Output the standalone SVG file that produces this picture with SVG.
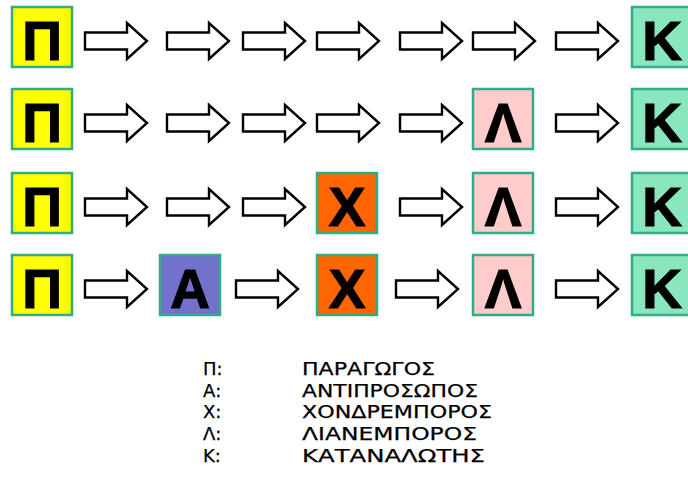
<svg xmlns="http://www.w3.org/2000/svg" xmlns:xlink="http://www.w3.org/1999/xlink" width="688" height="499" viewBox="0 0 688 499">
  <style>
    .box { stroke: #2fae86; stroke-width: 2.5; }
    .p { fill: #ffff00; }
    .a { fill: #7272cc; }
    .x { fill: #ff6600; }
    .l { fill: #ffcccc; }
    .k { fill: #8ae6bc; }
    .let { font-family: "Liberation Sans", Arial, sans-serif; font-weight: bold; font-size: 55px; fill: #000; stroke: #000; stroke-width: 1.2; text-anchor: middle; }
    .arr { fill: #fff; stroke: #000; stroke-width: 2.4; stroke-linejoin: miter; }
    .leg { font-family: "DejaVu Sans", Verdana, sans-serif; font-size: 18px; fill: #000; stroke: #000; stroke-width: 0.25; }
  </style>
  <defs>
    <!-- block arrow, origin at left end of shaft, vertical centre -->
    <path id="arrow" class="arr" d="M0,-8.5 H42 V-18 L62,0 L42,18 V8.5 H0 Z"/>
  </defs>

  <!-- row 1 -->
  <g id="r1-p"><rect class="box p" x="12" y="7" width="60" height="60"/><text class="let" x="42" y="60">Π</text></g>
  <g id="r1-k"><rect class="box k" x="632" y="7" width="60" height="60"/><text class="let" x="662" y="60">K</text></g>

  <!-- row 2 -->
  <g id="r2-p"><rect class="box p" x="12" y="89" width="60" height="60"/><text class="let" x="42" y="142">Π</text></g>
  <g id="r2-l"><rect class="box l" x="473" y="89" width="60" height="60"/><text class="let" x="503" y="142">Λ</text></g>
  <g id="r2-k"><rect class="box k" x="632" y="89" width="60" height="60"/><text class="let" x="662" y="142">K</text></g>

  <!-- row 3 -->
  <g id="r3-p"><rect class="box p" x="12" y="173" width="60" height="60"/><text class="let" x="42" y="226">Π</text></g>
  <g id="r3-x"><rect class="box x" x="317" y="173" width="60" height="60"/><text class="let" x="347" y="226">X</text></g>
  <g id="r3-l"><rect class="box l" x="473" y="173" width="60" height="60"/><text class="let" x="503" y="226">Λ</text></g>
  <g id="r3-k"><rect class="box k" x="632" y="173" width="60" height="60"/><text class="let" x="662" y="226">K</text></g>

  <!-- row 4 -->
  <g id="r4-p"><rect class="box p" x="12" y="255" width="60" height="60"/><text class="let" x="42" y="308">Π</text></g>
  <g id="r4-a"><rect class="box a" x="160" y="255" width="60" height="60"/><text class="let" x="190" y="308">A</text></g>
  <g id="r4-x"><rect class="box x" x="317" y="255" width="60" height="60"/><text class="let" x="347" y="308">X</text></g>
  <g id="r4-l"><rect class="box l" x="473" y="255" width="60" height="60"/><text class="let" x="503" y="308">Λ</text></g>
  <g id="r4-k"><rect class="box k" x="632" y="255" width="60" height="60"/><text class="let" x="662" y="308">K</text></g>

  <!-- connectors -->
  <g id="connectors">
    <use xlink:href="#arrow" href="#arrow" x="85" y="41"/>
    <use xlink:href="#arrow" href="#arrow" x="167" y="41"/>
    <use xlink:href="#arrow" href="#arrow" x="243" y="41"/>
    <use xlink:href="#arrow" href="#arrow" x="317" y="41"/>
    <use xlink:href="#arrow" href="#arrow" x="400" y="41"/>
    <use xlink:href="#arrow" href="#arrow" x="473" y="41"/>
    <use xlink:href="#arrow" href="#arrow" x="556" y="41"/>

    <use xlink:href="#arrow" href="#arrow" x="85" y="123"/>
    <use xlink:href="#arrow" href="#arrow" x="167" y="123"/>
    <use xlink:href="#arrow" href="#arrow" x="243" y="123"/>
    <use xlink:href="#arrow" href="#arrow" x="317" y="123"/>
    <use xlink:href="#arrow" href="#arrow" x="400" y="123"/>
    <use xlink:href="#arrow" href="#arrow" x="556" y="123"/>

    <use xlink:href="#arrow" href="#arrow" x="85" y="207"/>
    <use xlink:href="#arrow" href="#arrow" x="167" y="207"/>
    <use xlink:href="#arrow" href="#arrow" x="243" y="207"/>
    <use xlink:href="#arrow" href="#arrow" x="400" y="207"/>
    <use xlink:href="#arrow" href="#arrow" x="556" y="207"/>

    <use xlink:href="#arrow" href="#arrow" x="85" y="289"/>
    <use xlink:href="#arrow" href="#arrow" x="236" y="289"/>
    <use xlink:href="#arrow" href="#arrow" x="396" y="289"/>
    <use xlink:href="#arrow" href="#arrow" x="556" y="289"/>
  </g>

  <!-- legend -->
  <g id="legend" class="leg">
    <text x="203" y="375">Π:</text><text x="302" y="375" textLength="133" lengthAdjust="spacingAndGlyphs">ΠΑΡΑΓΩΓΟΣ</text>
    <text x="203" y="397">Α:</text><text x="302" y="397" textLength="176" lengthAdjust="spacingAndGlyphs">ΑΝΤΙΠΡΟΣΩΠΟΣ</text>
    <text x="203" y="418">Χ:</text><text x="302" y="418" textLength="190" lengthAdjust="spacingAndGlyphs">ΧΟΝΔΡΕΜΠΟΡΟΣ</text>
    <text x="203" y="440">Λ:</text><text x="302" y="440" textLength="175" lengthAdjust="spacingAndGlyphs">ΛΙΑΝΕΜΠΟΡΟΣ</text>
    <text x="203" y="462">Κ:</text><text x="302" y="462" textLength="183" lengthAdjust="spacingAndGlyphs">ΚΑΤΑΝΑΛΩΤΗΣ</text>
  </g>
</svg>
